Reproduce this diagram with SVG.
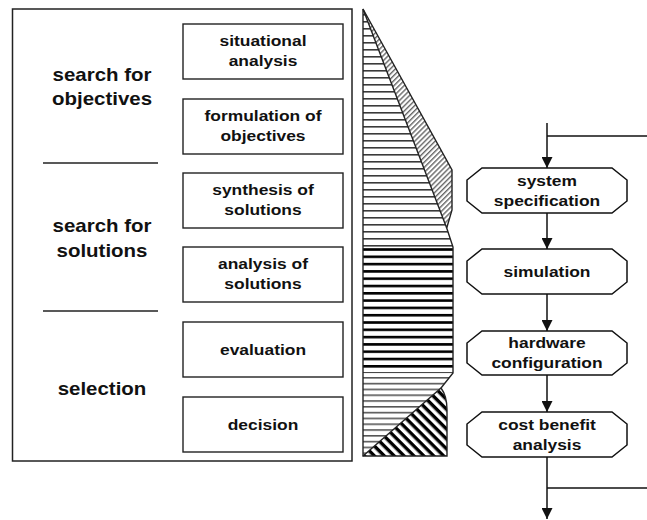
<svg xmlns="http://www.w3.org/2000/svg" width="647" height="520" viewBox="0 0 647 520">
<style>
  .frame{fill:#fff;stroke:#222;stroke-width:1.5}
  .box{fill:#fff;stroke:#222;stroke-width:1.4}
  .sep{stroke:#222;stroke-width:1.3}
  .oct{fill:#fff;stroke:#111;stroke-width:1.5}
  .t{font-family:"Liberation Sans",Arial,sans-serif;font-weight:bold;fill:#111;text-anchor:middle}
  .lbl{font-size:17.5px}
  .bt{font-size:15px}
  .edge{fill:none;stroke:#111;stroke-width:1.5}
  .outl{fill:none;stroke:#222;stroke-width:1.4;stroke-linejoin:miter}
</style>
<defs>
  <marker id="ah" markerWidth="11" markerHeight="11" refX="11" refY="5.5" orient="auto" markerUnits="userSpaceOnUse">
    <path d="M0,0 L11,5.5 L0,11 Z" fill="#111"/>
  </marker>
  <pattern id="pA" patternUnits="userSpaceOnUse" width="10" height="7"><rect x="0" y="0" width="10" height="1.6" fill="#3a3a3a"/></pattern>
  <pattern id="pB" patternUnits="userSpaceOnUse" width="10" height="3.6" patternTransform="rotate(-45)"><rect x="0" y="0" width="10" height="1.4" fill="#666"/></pattern>
  <pattern id="pC" patternUnits="userSpaceOnUse" width="10" height="7.3"><rect x="0" y="0" width="10" height="2.6" fill="#000"/></pattern>
  <pattern id="pD" patternUnits="userSpaceOnUse" width="10" height="5.8"><rect x="0" y="0" width="10" height="1.6" fill="#555"/></pattern>
  <pattern id="pE" patternUnits="userSpaceOnUse" width="10" height="7" patternTransform="rotate(45)"><rect x="0" y="0" width="10" height="3.4" fill="#000"/></pattern>
</defs>

<g id="frame">
  <rect class="frame" x="12.5" y="9" width="339.5" height="452"/>
  <line class="sep" x1="43" y1="163" x2="158" y2="163"/>
  <line class="sep" x1="43" y1="311" x2="158" y2="311"/>
</g>

<g id="phase-objectives">
  <text class="t lbl" transform="translate(102 0) scale(1.17 1)" y="81">search for</text>
  <text class="t lbl" transform="translate(102 0) scale(1.17 1)" y="105">objectives</text>
</g>
<g id="phase-solutions">
  <text class="t lbl" transform="translate(102 0) scale(1.17 1)" y="232">search for</text>
  <text class="t lbl" transform="translate(102 0) scale(1.17 1)" y="257">solutions</text>
</g>
<g id="phase-selection">
  <text class="t lbl" transform="translate(102 0) scale(1.17 1)" y="395">selection</text>
</g>

<g id="step-situational">
  <rect class="box" x="183" y="24" width="160" height="55"/>
  <text class="t bt" transform="translate(263 0) scale(1.16 1)" y="46.5">situational</text>
  <text class="t bt" transform="translate(263 0) scale(1.16 1)" y="66.5">analysis</text>
</g>
<g id="step-formulation">
  <rect class="box" x="183" y="99" width="160" height="55"/>
  <text class="t bt" transform="translate(263 0) scale(1.16 1)" y="121.5">formulation of</text>
  <text class="t bt" transform="translate(263 0) scale(1.16 1)" y="141.5">objectives</text>
</g>
<g id="step-synthesis">
  <rect class="box" x="183" y="173" width="160" height="55"/>
  <text class="t bt" transform="translate(263 0) scale(1.16 1)" y="195.5">synthesis of</text>
  <text class="t bt" transform="translate(263 0) scale(1.16 1)" y="215.5">solutions</text>
</g>
<g id="step-analysis">
  <rect class="box" x="183" y="247" width="160" height="55"/>
  <text class="t bt" transform="translate(263 0) scale(1.16 1)" y="269.5">analysis of</text>
  <text class="t bt" transform="translate(263 0) scale(1.16 1)" y="289.5">solutions</text>
</g>
<g id="step-evaluation">
  <rect class="box" x="183" y="322" width="160" height="55"/>
  <text class="t bt" transform="translate(263 0) scale(1.16 1)" y="355">evaluation</text>
</g>
<g id="step-decision">
  <rect class="box" x="183" y="397" width="160" height="55"/>
  <text class="t bt" transform="translate(263 0) scale(1.16 1)" y="430">decision</text>
</g>

<g id="effort-chart">
  <polygon points="363,9 446.7,228 453,247 363,247" fill="url(#pA)"/>
  <polygon points="363,9 452,170 452,210 446.7,228" fill="url(#pB)"/>
  <polygon points="363,247 453,247 453,373 363,373" fill="url(#pC)"/>
  <polygon points="363,373 453,373 441,388 363,456" fill="url(#pD)"/>
  <path d="M363,456 L441,388 Q447,396 447,410 L447,456 Z" fill="url(#pE)"/>
  <path class="outl" d="M363,456 L363,9 L452,170 L452,210 L446.7,228 L453,247 L453,373 L441,388 Q447,396 447,410 L447,456 Z"/>
  <line class="outl" x1="363" y1="9" x2="446.7" y2="228"/>
  <line class="outl" x1="363" y1="456" x2="441" y2="388"/>
</g>

<g id="connectors">
  <line class="edge" x1="547" y1="123" x2="547" y2="168" marker-end="url(#ah)"/>
  <line class="edge" x1="547" y1="136" x2="647" y2="136"/>
  <line class="edge" x1="547" y1="213" x2="547" y2="249" marker-end="url(#ah)"/>
  <line class="edge" x1="547" y1="294" x2="547" y2="331" marker-end="url(#ah)"/>
  <line class="edge" x1="547" y1="375" x2="547" y2="412" marker-end="url(#ah)"/>
  <line class="edge" x1="547" y1="457" x2="547" y2="519" marker-end="url(#ah)"/>
  <line class="edge" x1="547" y1="488" x2="647" y2="488"/>
</g>

<g id="system-specification">
  <polygon class="oct" points="482,168 612,168 627,180 627,201 612,213 482,213 467,201 467,180"/>
  <text class="t bt" transform="translate(547 0) scale(1.16 1)" y="186">system</text>
  <text class="t bt" transform="translate(547 0) scale(1.16 1)" y="206">specification</text>
</g>
<g id="simulation">
  <polygon class="oct" points="482,249 612,249 627,261 627,282 612,294 482,294 467,282 467,261"/>
  <text class="t bt" transform="translate(547 0) scale(1.16 1)" y="277">simulation</text>
</g>
<g id="hardware-configuration">
  <polygon class="oct" points="482,331 612,331 627,343 627,363 612,375 482,375 467,363 467,343"/>
  <text class="t bt" transform="translate(547 0) scale(1.16 1)" y="348.5">hardware</text>
  <text class="t bt" transform="translate(547 0) scale(1.16 1)" y="368.5">configuration</text>
</g>
<g id="cost-benefit-analysis">
  <polygon class="oct" points="482,412 612,412 627,424 627,445 612,457 482,457 467,445 467,424"/>
  <text class="t bt" transform="translate(547 0) scale(1.16 1)" y="430">cost benefit</text>
  <text class="t bt" transform="translate(547 0) scale(1.16 1)" y="450">analysis</text>
</g>
</svg>
